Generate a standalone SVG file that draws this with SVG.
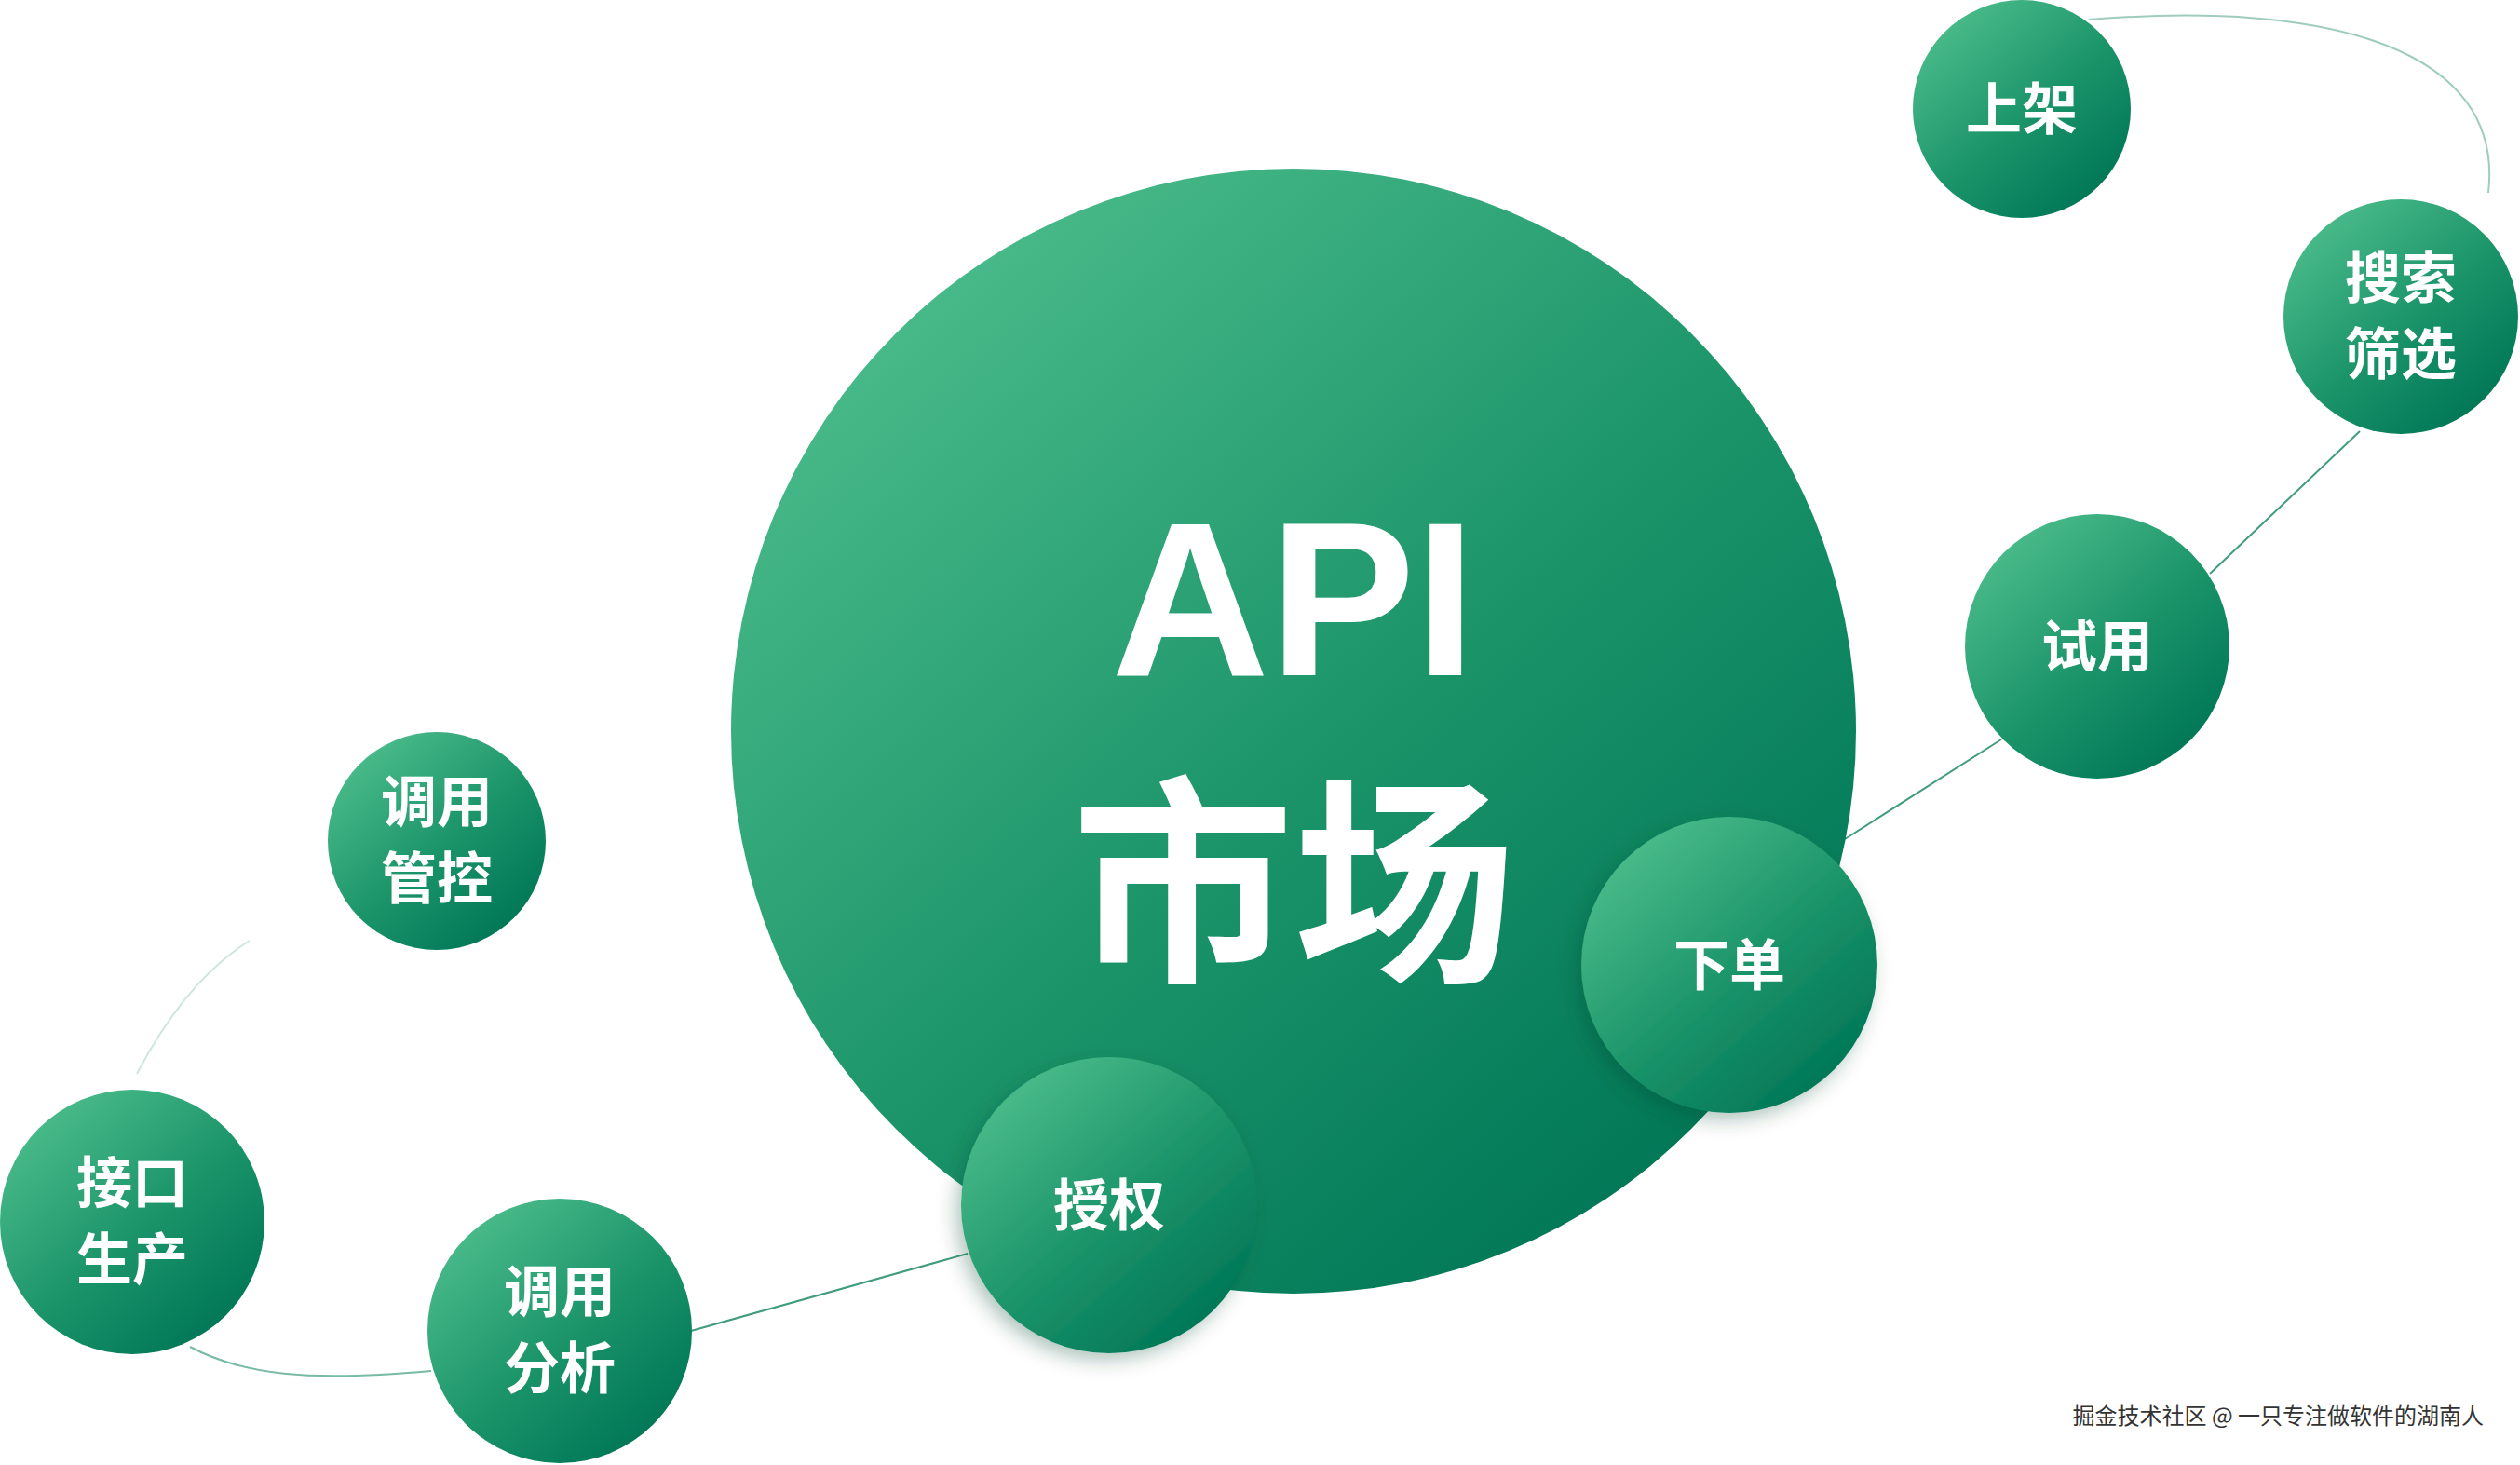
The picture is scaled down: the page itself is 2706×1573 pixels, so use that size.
<svg xmlns="http://www.w3.org/2000/svg" width="2706" height="1573" viewBox="0 0 2706 1573">
<defs>
<linearGradient id="g" x1="0.15" y1="0.1" x2="0.85" y2="0.9">
<stop offset="0" stop-color="#4abb8a"/><stop offset="0.55" stop-color="#1a9369"/><stop offset="1" stop-color="#007656"/>
</linearGradient>
<filter id="sh" x="-30%" y="-30%" width="160%" height="160%"><feDropShadow dx="-6" dy="8" stdDeviation="10" flood-color="#00402c" flood-opacity="0.3"/></filter>
</defs>
<style>
.n{fill:url(#g)}
.t{fill:#fff;font-family:"Noto Sans CJK SC","Liberation Sans",sans-serif;font-weight:700;font-size:60px;text-anchor:middle}
.c{fill:none;stroke:#3f9c7c;stroke-width:2}
</style>
<rect width="2706" height="1573" fill="#fff"/>
<g id="connectors">
<path class="c" d="M2243,21 C2500,0 2690,52 2672,207" stroke-opacity="0.5"/>
<path class="c" d="M2534,463 L2373,616"/>
<path class="c" d="M2149,794 L1981,901"/>
<path class="c" d="M1039,1346 L742,1429"/>
<path class="c" d="M463,1472 C330,1484 260,1476 204,1446" stroke-opacity="0.7"/>
<path class="c" d="M147,1153 C180,1090 220,1040 268,1010" stroke-opacity="0.25"/>
</g>
<g id="main"><circle class="n" cx="1389" cy="785" r="604"/>
<text x="1389" y="725" fill="#fff" font-family="Liberation Sans,sans-serif" font-weight="700" font-size="235" text-anchor="middle">API</text>
<text x="1389" y="1036" fill="#fff" font-family="Noto Sans CJK SC,sans-serif" font-weight="700" font-size="238" text-anchor="middle">市场</text></g>
<g id="n1"><circle class="n" cx="2171" cy="117" r="117"/><text class="t" x="2171" y="139">上架</text></g>
<g id="n2"><circle class="n" cx="2578" cy="340" r="126"/><text class="t" x="2578" y="320">搜索</text><text class="t" x="2578" y="402">筛选</text></g>
<g id="n3"><circle class="n" cx="2252" cy="694" r="142"/><text class="t" x="2252" y="716">试用</text></g>
<g id="n4"><circle class="n" cx="1857" cy="1036" r="159" filter="url(#sh)"/><text class="t" x="1857" y="1058">下单</text></g>
<g id="n5"><circle class="n" cx="1191" cy="1294" r="159" filter="url(#sh)"/><text class="t" x="1191" y="1316">授权</text></g>
<g id="n6"><circle class="n" cx="601" cy="1429" r="142"/><text class="t" x="601" y="1409">调用</text><text class="t" x="601" y="1491">分析</text></g>
<g id="n7"><circle class="n" cx="142" cy="1312" r="142"/><text class="t" x="142" y="1292">接口</text><text class="t" x="142" y="1374">生产</text></g>
<g id="n8"><circle class="n" cx="469" cy="903" r="117"/><text class="t" x="469" y="883">调用</text><text class="t" x="469" y="965">管控</text></g>
<text x="2667" y="1529" fill="#333" font-family="Noto Sans CJK SC,sans-serif" font-size="24" text-anchor="end">掘金技术社区 @ 一只专注做软件的湖南人</text>
</svg>
